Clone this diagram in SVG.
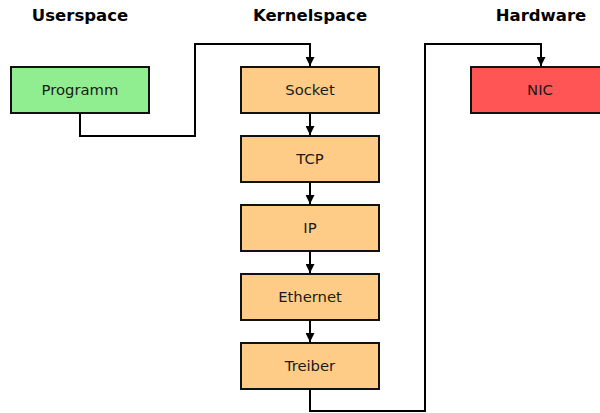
<svg xmlns="http://www.w3.org/2000/svg" width="600" height="413" viewBox="0 0 600 413">
  <style>
    .title { font-family: "DejaVu Sans", sans-serif; font-size: 16.5px; font-weight: bold; fill: #000; text-anchor: middle; }
    .label { font-family: "DejaVu Sans", sans-serif; font-size: 14.8px; fill: #1a1a1a; text-anchor: middle; dominant-baseline: central; }
    .box { stroke: #111; stroke-width: 2; }
    .user { fill: #90ee90; }
    .kernel { fill: #ffcc88; }
    .hw { fill: #ff5555; }
    .edge { fill: none; stroke: #000; stroke-width: 2; }
  </style>
  <defs>
    <marker id="arrow" viewBox="0 0 10 10" refX="10" refY="5" markerWidth="9" markerHeight="9" markerUnits="userSpaceOnUse" orient="auto">
      <path d="M0,0 L10,5 L0,10 z" fill="#000"/>
    </marker>
  </defs>
  <rect width="600" height="413" fill="#fff"/>

  <text class="title" x="80" y="21">Userspace</text>
  <text class="title" x="310" y="21">Kernelspace</text>
  <text class="title" x="541" y="21">Hardware</text>

  <g id="connectors">
    <path class="edge" d="M80,113 V136 H195 V44 H310 V66" marker-end="url(#arrow)"/>
    <path class="edge" d="M310,113 V135" marker-end="url(#arrow)"/>
    <path class="edge" d="M310,182 V204" marker-end="url(#arrow)"/>
    <path class="edge" d="M310,251 V273" marker-end="url(#arrow)"/>
    <path class="edge" d="M310,320 V342" marker-end="url(#arrow)"/>
    <path class="edge" d="M310,389 V411 H425 V44 H541 V66" marker-end="url(#arrow)"/>
  </g>

  <g id="programm">
    <rect class="box user" x="11" y="67" width="138" height="46"/>
    <text class="label" x="80" y="89">Programm</text>
  </g>
  <g id="socket">
    <rect class="box kernel" x="241" y="67" width="138" height="46"/>
    <text class="label" x="310" y="89">Socket</text>
  </g>
  <g id="tcp">
    <rect class="box kernel" x="241" y="136" width="138" height="46"/>
    <text class="label" x="310" y="158">TCP</text>
  </g>
  <g id="ip">
    <rect class="box kernel" x="241" y="205" width="138" height="46"/>
    <text class="label" x="310" y="227">IP</text>
  </g>
  <g id="ethernet">
    <rect class="box kernel" x="241" y="274" width="138" height="46"/>
    <text class="label" x="310" y="296">Ethernet</text>
  </g>
  <g id="treiber">
    <rect class="box kernel" x="241" y="343" width="138" height="46"/>
    <text class="label" x="310" y="365">Treiber</text>
  </g>
  <g id="nic">
    <rect class="box hw" x="471" y="67" width="138" height="46"/>
    <text class="label" x="540" y="89">NIC</text>
  </g>
</svg>
